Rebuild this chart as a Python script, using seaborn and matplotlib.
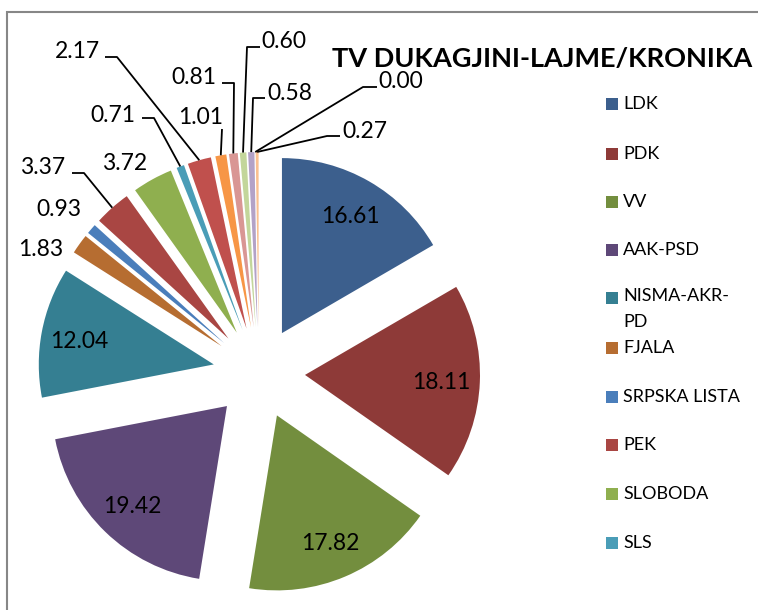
import numpy as np
import matplotlib
matplotlib.use("Agg")
import matplotlib.pyplot as plt
from matplotlib.patches import Rectangle
import seaborn as sns

# data (clockwise from 12 o'clock)
parties = ["LDK", "PDK", "VV", "AAK-PSD", "NISMA-AKR-\nPD", "FJALA", "SRPSKA LISTA",
           "PEK", "SLOBODA", "SLS", "Other 11", "Other 12", "Other 13", "Other 14",
           "Other 15", "Other 16", "Other 17"]
shares = [16.61, 18.11, 17.82, 19.42, 12.04, 1.83, 0.93, 3.37, 3.72, 0.71,
          2.17, 1.01, 0.81, 0.60, 0.58, 0.00, 0.27]
title = "TV DUKAGJINI-LAJME/KRONIKA"
n_legend = 10  # the original legend is cut off after SLS

colors = ["#3C5F8D", "#8E3A38", "#738E3E", "#5E4878", "#357F92", "#B66D31",
          "#4A7EBB", "#A94643", "#8FAF4F", "#4A9DB7", "#C0504D", "#F79646",
          "#D99694", "#C3D69B", "#B3A2C7", "#93CDDD", "#FAC090"]

W, H = 758, 610
CX, CY, R = 259, 373, 175  # pie centre and radius in pixels


def px(x, y):
    return (x - CX) / R, (CY - y) / R


sns.set_theme(style="white")
plt.rcParams["font.family"] = ["Lato", "DejaVu Sans"]

fig = plt.figure(figsize=(W / 100, H / 100), dpi=100)
ax = fig.add_axes([0, 0, 1, 1])
wedges, _ = ax.pie(shares, colors=colors, startangle=90, counterclock=False,
                   explode=[0.263] * len(shares), radius=1,
                   wedgeprops=dict(linewidth=0))
ax.set_xlim(-CX / R, (W - CX) / R)
ax.set_ylim(-(H - CY) / R, CY / R)
ax.set_aspect("equal")
ax.axis("off")


def wedge_point(w, frac):
    ang = np.deg2rad((w.theta1 + w.theta2) / 2)
    cx, cy = w.center
    return cx + frac * w.r * np.cos(ang), cy + frac * w.r * np.sin(ang)


LBL = 16.5

# big slices: labels inside
for i in range(5):
    x, y = wedge_point(wedges[i], 0.78)
    ax.text(x, y, f"{shares[i]:.2f}", ha="center", va="center_baseline",
            fontsize=LBL, color="black")

# small slices: text position (px), alignment, leader points (px)
outer = {
    5: ((41, 248), "center", []),
    6: ((59, 208), "center", []),
    7: ((65, 166), "right", [(72, 173), (84, 173)]),
    8: ((125, 161), "center", []),
    9: ((135, 113), "right", [(142, 118), (154, 118)]),
    10: ((100, 50), "right", [(105, 57), (117, 57)]),
    11: ((223, 115), "right", [(222, 129)]),
    12: ((216, 76), "right", [(222, 83), (234, 83)]),
    13: ((261, 40), "left", [(260, 47), (247, 47)]),
    14: ((267, 91), "left", [(265, 98), (253, 98)]),
    15: ((378, 80), "left", [(377, 87), (363, 87)]),
    16: ((342, 130), "left", [(340, 136), (327, 136)]),
}
for i, (tpos, ha, pts) in outer.items():
    tx, ty = px(*tpos)
    ax.text(tx, ty, f"{shares[i]:.2f}", ha=ha, va="center_baseline",
            fontsize=LBL, color="black")
    if pts:
        line = [px(*p) for p in pts] + [wedge_point(wedges[i], 1.0)]
        lx, ly = zip(*line)
        ax.plot(lx, ly, color="black", lw=1.3, solid_capstyle="butt")

# title
fig.text(542 / W, 1 - 57 / H, title, ha="center", va="center_baseline",
         fontsize=19.5, fontweight="bold", color="black")

# legend (manual, to keep Excel's fixed row spacing)
rows = [104, 154, 202, 250, 298, 348, 397, 445, 494, 543]
for i in range(n_legend):
    y = rows[i]
    fig.add_artist(Rectangle((606 / W, 1 - (y + 6) / H), 12 / W, 12 / H,
                             transform=fig.transFigure, facecolor=colors[i], lw=0))
    label = parties[i]
    if "\n" in label:
        fig.text(623 / W, 1 - (y - 10) / H, label, ha="left", va="top",
                 fontsize=13, linespacing=1.75, color="black")
    else:
        fig.text(623 / W, 1 - y / H, label, ha="left", va="center",
                 fontsize=13, color="black")

# chart frame (cut off on the right and bottom in the original)
fig.add_artist(Rectangle((7 / W, -0.5), 2, 1.5 - 12 / H, transform=fig.transFigure,
                         fill=False, edgecolor="#878787", lw=1.5))

fig.savefig("out.png", dpi=100)
